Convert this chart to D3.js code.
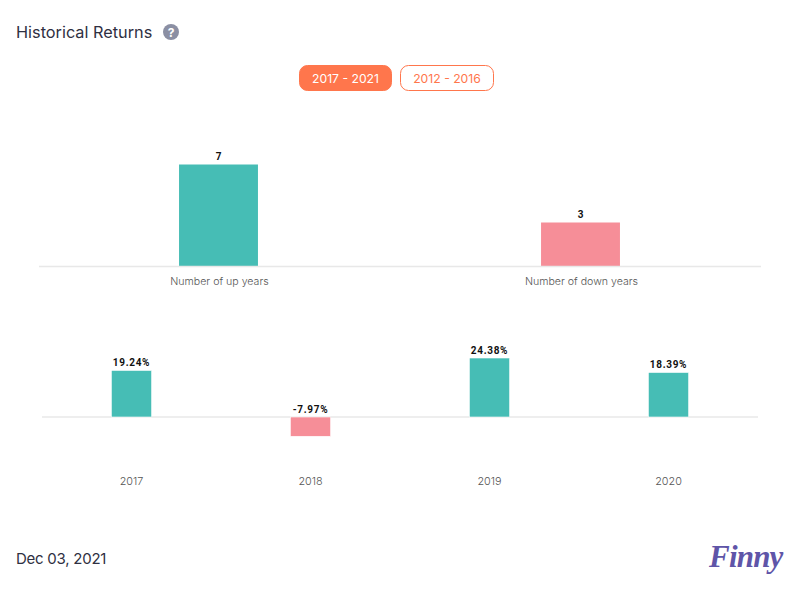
<!DOCTYPE html>
<html>
<head>
<meta charset="utf-8">
<script src="https://cdn.jsdelivr.net/npm/d3@7"></script>
<style>
  html, body { margin: 0; padding: 0; background: #fff; }
  svg { display: block; }
  text { font-family: Inter, "Noto Sans", sans-serif; }
</style>
</head>
<body>
<svg id="chart" width="800" height="600"></svg>
<script>
// values
var countLabels = ["Number of up years", "Number of down years"];
var countValues = [7, 3];
var yearLabels = ["2017", "2018", "2019", "2020"];
var yearReturns = [19.24, -7.97, 24.38, 18.39];
var periods = ["2017 - 2021", "2012 - 2016"];

var upColor = "#46bdb5";
var downColor = "#f68e98";
var orange = "#ff764c";
var svg = d3.select("#chart");

// header
svg.append("text").attr("x", 16).attr("y", 38)
  .attr("font-size", 16.3).attr("fill", "#2f3042").text("Historical Returns");
svg.append("circle").attr("cx", 171).attr("cy", 32).attr("r", 8).attr("fill", "#8b8fa3");
svg.append("text").attr("x", 171).attr("y", 36.5).attr("text-anchor", "middle")
  .attr("font-size", 12).attr("font-weight", 700).attr("fill", "#fff").text("?");

// period buttons
var btnX = d3.scaleOrdinal().domain(periods).range([299, 400]);
var btnW = d3.scaleOrdinal().domain(periods).range([93, 94]);
var btn = svg.selectAll("g.btn").data(periods).enter().append("g").attr("class", "btn");
btn.append("rect")
  .attr("x", d => btnX(d) + 0.5).attr("y", 65.5)
  .attr("width", d => btnW(d) - 1).attr("height", 25).attr("rx", 8)
  .attr("fill", (d, i) => i == 0 ? orange : "#fff").attr("stroke", orange);
btn.append("text")
  .attr("x", d => btnX(d) + btnW(d) / 2).attr("y", 82.5)
  .attr("text-anchor", "middle").attr("font-size", 12.2)
  .attr("fill", (d, i) => i == 0 ? "#fff" : orange).text(d => d);

// top chart: up and down years
var x1 = d3.scaleBand().domain(countLabels).range([37.5, 761.5]).paddingInner(0.782).paddingOuter(0.391);
var y1 = d3.scaleLinear().domain([0, 7]).range([266, 164.5]);
var counts = d3.zip(countLabels, countValues);

svg.selectAll("rect.count").data(counts).enter().append("rect").attr("class", "count")
  .attr("x", d => x1(d[0])).attr("width", x1.bandwidth())
  .attr("y", d => y1(d[1])).attr("height", d => y1(0) - y1(d[1]))
  .attr("fill", (d, i) => i == 0 ? upColor : downColor);
svg.append("line").attr("x1", 39).attr("x2", 761).attr("y1", 266.5).attr("y2", 266.5)
  .attr("stroke", "#e8e8e8").attr("stroke-width", 1.5);
svg.selectAll("text.countVal").data(counts).enter().append("text").attr("class", "countVal")
  .attr("x", d => x1(d[0]) + x1.bandwidth() / 2).attr("y", d => y1(d[1]) - 5)
  .attr("text-anchor", "middle").attr("font-size", 10).attr("font-weight", 700)
  .style("font-family", "Roboto").attr("fill", "#111").text(d => d[1]);
svg.selectAll("text.countLab").data(counts).enter().append("text").attr("class", "countLab")
  .attr("x", d => x1(d[0]) + x1.bandwidth() / 2 + 1).attr("y", 285)
  .attr("text-anchor", "middle").attr("font-size", 10.6).attr("font-weight", 300)
  .attr("fill", "#555").text(d => d[0]);

// bottom chart: yearly returns
var x2 = d3.scaleBand().domain(yearLabels).range([42, 758]).paddingInner(0.775).paddingOuter(0.3875);
var y2 = d3.scaleLinear().domain([0, 24.38]).range([417, 358]);
var years = d3.zip(yearLabels, yearReturns);

svg.append("line").attr("x1", 42).attr("x2", 758).attr("y1", 417).attr("y2", 417)
  .attr("stroke", "#e8e8e8").attr("stroke-width", 1.5);
svg.selectAll("rect.year").data(years).enter().append("rect").attr("class", "year")
  .attr("x", d => x2(d[0])).attr("width", x2.bandwidth())
  .attr("y", d => Math.min(y2(d[1]), y2(0))).attr("height", d => Math.abs(y2(d[1]) - y2(0)))
  .attr("fill", d => d[1] >= 0 ? upColor : downColor)
  .attr("stroke", "#fff").attr("stroke-width", 0.6);
svg.selectAll("text.yearVal").data(years).enter().append("text").attr("class", "yearVal")
  .attr("x", d => x2(d[0]) + x2.bandwidth() / 2)
  .attr("y", d => d[1] >= 0 ? y2(d[1]) - 4.5 : y2(0) - 4)
  .attr("text-anchor", "middle").attr("font-size", 10).attr("font-weight", 700)
  .attr("letter-spacing", 0.7).style("font-family", "Roboto").attr("fill", "#111")
  .text(d => d[1].toFixed(2) + "%");
svg.selectAll("text.yearLab").data(years).enter().append("text").attr("class", "yearLab")
  .attr("x", d => x2(d[0]) + x2.bandwidth() / 2).attr("y", 485)
  .attr("text-anchor", "middle").attr("font-size", 10.8).attr("font-weight", 300)
  .attr("fill", "#555").text(d => d[0]);

// footer
svg.append("text").attr("x", 16).attr("y", 564)
  .attr("font-size", 15).attr("letter-spacing", -0.25).attr("fill", "#2f3042").text("Dec 03, 2021");
svg.append("text").attr("x", 709).attr("y", 567)
  .attr("font-size", 31).attr("font-weight", 700).attr("font-style", "italic")
  .style("font-family", "'Liberation Serif'").attr("letter-spacing", -0.8).attr("fill", "#5f55a8").text("Finny");
</script>
</body>
</html>
